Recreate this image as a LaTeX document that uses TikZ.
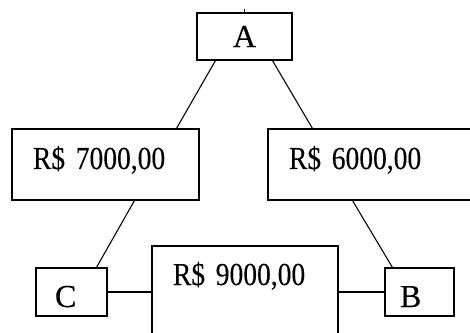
\documentclass[tikz,border=0pt]{standalone}
\usepackage{fontspec}
\setmainfont{Liberation Serif}[FakeBold=0.3]
\newfontfamily\moneyfont{Liberation Serif}[FakeStretch=0.86,FakeBold=0.3]
\usepackage{tikz}
\usetikzlibrary{positioning}
\tikzset{every picture/.style={line width=0.8pt}}

\begin{document}
\begin{tikzpicture}[x=0.75pt,y=0.75pt,
    box/.style={draw, font=\fontsize{24pt}{24pt}\selectfont, inner sep=0pt},
    letter/.style={box, align=left, inner ysep=0pt, text height=29.25pt, text depth=6.75pt},
    money/.style={box, font=\fontsize{24pt}{24pt}\moneyfont, align=left,
      inner xsep=15.75pt, inner ysep=0pt, text height=30pt, text depth=23.25pt}]
  \clip (0,0) rectangle (470,332);

  \node [box, minimum width=71.25pt, minimum height=35.25pt] (A) at (244.5,295.5) {A};
  \coordinate (tick) at ([yshift=2.5pt]A.north);
  \draw (A.north) -- (tick);

  \node [money, text width=108.75pt] (v7000) at (105.5,167.5) {R\$ 7000,00};
  \node [money, text width=122.25pt] (v6000) at (370.5,167.5) {R\$ 6000,00};

  \node [letter, inner xsep=14.25pt, text width=24.75pt] (C) at (71.5,40) {C};
  \node [letter, inner xsep=11.25pt, text width=29.25pt] (B) at (419.5,40) {B};
  \node [money, text width=108pt, text height=29.25pt, text depth=53.25pt] (v9000)
    at (245,31) {R\$ 9000,00};

  \draw ([xshift=14.25pt]A.south west) -- ([xshift=123.75pt]v7000.north west);
  \draw ([xshift=57pt]A.south west) -- ([xshift=33.75pt]v6000.north west);
  \draw ([xshift=92.25pt]v7000.south west) -- ([xshift=45.75pt]C.north west);
  \draw ([xshift=63.75pt]v6000.south west) -- ([xshift=6pt]B.north west);
  \draw (C.east) -- (C.east -| v9000.west);
  \draw (v9000.east |- B.west) -- (B.west);
\end{tikzpicture}
\end{document}
